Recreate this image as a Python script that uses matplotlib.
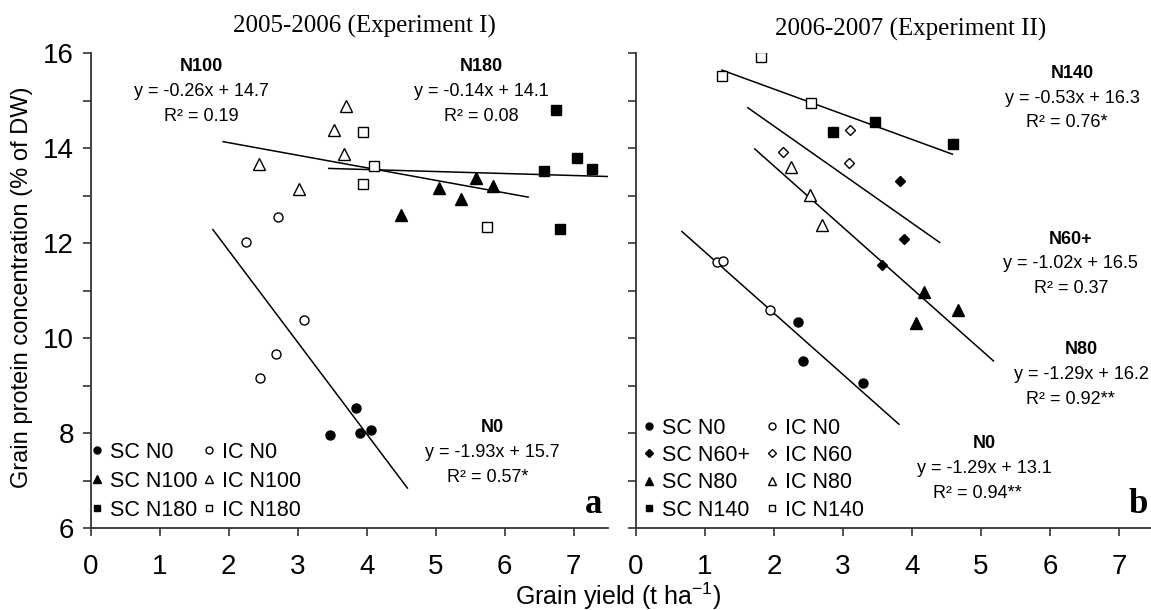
import matplotlib
matplotlib.use('Agg')
import matplotlib.pyplot as plt
from matplotlib.lines import Line2D

plt.rcParams['font.family'] = ['Liberation Sans', 'DejaVu Sans']
plt.rcParams['mathtext.fontset'] = 'custom'
plt.rcParams['mathtext.rm'] = 'Liberation Sans'
plt.rcParams['mathtext.it'] = 'Liberation Sans:italic'

# ---- 2005-2006 (Experiment I) ----
e1_sc_n0_x = [3.47, 3.84, 3.91, 4.06]
e1_sc_n0_y = [7.95, 8.53, 7.99, 8.06]
e1_ic_n0_x = [2.25, 2.71, 3.09, 2.68, 2.46]
e1_ic_n0_y = [12.02, 12.55, 10.38, 9.66, 9.16]
e1_sc_n100_x = [4.50, 5.05, 5.37, 5.59, 5.83]
e1_sc_n100_y = [12.59, 13.15, 12.93, 13.37, 13.20]
e1_ic_n100_x = [2.44, 3.02, 3.53, 3.67, 3.70]
e1_ic_n100_y = [13.66, 13.14, 14.38, 13.87, 14.89]
e1_sc_n180_x = [6.57, 6.75, 6.80, 7.05, 7.27]
e1_sc_n180_y = [13.52, 14.81, 12.29, 13.80, 13.55]
e1_ic_n180_x = [3.94, 3.94, 4.10, 5.75]
e1_ic_n180_y = [14.33, 13.24, 13.63, 12.34]

# trend lines as drawn (slope, intercept, x range)
e1_fit_slope = [-1.93, -0.264, -0.042]
e1_fit_icpt = [15.7, 14.64, 13.715]
e1_fit_xmin = [1.77, 1.92, 3.45]
e1_fit_xmax = [4.59, 6.34, 7.5]

e1_fit_names = ['N0', 'N100', 'N180']
e1_fit_eq = ['y = -1.93x + 15.7', 'y = -0.26x + 14.7', 'y = -0.14x + 14.1']
e1_fit_r2 = ['R\u00b2 = 0.57*', 'R\u00b2 = 0.19', 'R\u00b2 = 0.08']

# ---- 2006-2007 (Experiment II) ----
e2_sc_n0_x = [2.35, 2.42, 3.29]
e2_sc_n0_y = [10.33, 9.52, 9.06]
e2_ic_n0_x = [1.17, 1.26, 1.94]
e2_ic_n0_y = [11.59, 11.63, 10.60]
e2_sc_n60_x = [3.57, 3.83, 3.89]
e2_sc_n60_y = [11.54, 13.31, 12.08]
e2_ic_n60_x = [2.13, 3.08, 3.10]
e2_ic_n60_y = [13.92, 13.68, 14.38]
e2_sc_n80_x = [4.06, 4.18, 4.67]
e2_sc_n80_y = [10.31, 10.96, 10.59]
e2_ic_n80_x = [2.24, 2.52, 2.70]
e2_ic_n80_y = [13.59, 13.01, 12.37]
e2_sc_n140_x = [2.85, 3.46, 4.59]
e2_sc_n140_y = [14.33, 14.54, 14.08]
e2_ic_n140_x = [1.25, 1.81, 2.53]
e2_ic_n140_y = [15.52, 15.91, 14.94]

e2_fit_slope = [-1.29, -1.02, -1.29, -0.53]
e2_fit_icpt = [13.1, 16.5, 16.2, 16.3]
e2_fit_xmin = [0.665, 1.62, 1.72, 1.245]
e2_fit_xmax = [3.81, 4.40, 5.18, 4.585]

e2_fit_names = ['N0', 'N60+', 'N80', 'N140']
e2_fit_eq = ['y = -1.29x + 13.1', 'y = -1.02x + 16.5', 'y = -1.29x + 16.2', 'y = -0.53x + 16.3']
e2_fit_r2 = ['R\u00b2 = 0.94**', 'R\u00b2 = 0.37', 'R\u00b2 = 0.92**', 'R\u00b2 = 0.76*']

x_ticks = [0, 1, 2, 3, 4, 5, 6, 7]

AX_COL = '#333333'
MS = {'o': 6.5, '^': 8, 's': 6.5, 'D': 5.5}
LEG_MS = {'o': 5, '^': 6, 's': 5, 'D': 4.5}


def style_axes(ax, show_ylabels):
    ax.set_xlim(0, 7.5)
    ax.set_ylim(6, 16)
    for s in ['top', 'right']:
        ax.spines[s].set_visible(False)
    for s in ['left', 'bottom']:
        ax.spines[s].set_color(AX_COL)
        ax.spines[s].set_linewidth(1.3)
    ax.set_xticks(x_ticks)
    ax.set_yticks([6, 8, 10, 12, 14, 16])
    ax.set_yticks([7, 9, 11, 13, 15], minor=True)
    ax.tick_params(axis='both', which='both', direction='out', color=AX_COL, width=1.2)
    ax.tick_params(axis='x', length=6, pad=13, labelsize=20)
    ax.tick_params(axis='y', which='both', length=6, pad=6, labelsize=20)
    if not show_ylabels:
        ax.tick_params(axis='y', labelleft=False)


def draw_series(ax, x, y, marker, filled):
    ax.plot(x, y, linestyle='none', marker=marker, markersize=MS[marker],
            markerfacecolor='black' if filled else 'white',
            markeredgecolor='black', markeredgewidth=1.0, zorder=3)


def draw_fits(ax, slopes, icpts, xmins, xmaxs):
    for k, b, x0, x1 in zip(slopes, icpts, xmins, xmaxs):
        ax.plot([x0, x1], [k * x0 + b, k * x1 + b], color='black', linewidth=1.1, zorder=2)


def legend_handle(marker, filled):
    return Line2D([], [], linestyle='none', marker=marker, markersize=LEG_MS[marker],
                  markerfacecolor='black' if filled else 'white',
                  markeredgecolor='black', markeredgewidth=1.0)


def fit_label(ax, x, y, name, eq, r2, dy=0.52, r2dx=0.0):
    ax.text(x, y, name, ha='center', va='center', fontsize=13, fontweight='bold')
    ax.text(x, y - dy, eq, ha='center', va='center', fontsize=13)
    ax.text(x + r2dx, y - 2 * dy, r2, ha='center', va='center', fontsize=13)


fig = plt.figure(figsize=(11.51, 6.10), dpi=100)
ax1 = fig.add_axes([0.0788, 0.1344, 0.4496, 0.7787])
ax2 = fig.add_axes([0.5526, 0.1344, 0.4496, 0.7787])

# panel a
style_axes(ax1, True)
draw_fits(ax1, e1_fit_slope, e1_fit_icpt, e1_fit_xmin, e1_fit_xmax)
draw_series(ax1, e1_sc_n0_x, e1_sc_n0_y, 'o', True)
draw_series(ax1, e1_ic_n0_x, e1_ic_n0_y, 'o', False)
draw_series(ax1, e1_sc_n100_x, e1_sc_n100_y, '^', True)
draw_series(ax1, e1_ic_n100_x, e1_ic_n100_y, '^', False)
draw_series(ax1, e1_sc_n180_x, e1_sc_n180_y, 's', True)
draw_series(ax1, e1_ic_n180_x, e1_ic_n180_y, 's', False)

fit_label(ax1, 5.82, 8.11, e1_fit_names[0], e1_fit_eq[0], e1_fit_r2[0], r2dx=-0.07)
fit_label(ax1, 1.61, 15.71, e1_fit_names[1], e1_fit_eq[1], e1_fit_r2[1])
fit_label(ax1, 5.66, 15.71, e1_fit_names[2], e1_fit_eq[2], e1_fit_r2[2])
ax1.text(7.42, 6.5, 'a', ha='right', va='center', fontsize=25, fontweight='bold',
         family='Liberation Serif')

h1 = [legend_handle('o', True), legend_handle('^', True), legend_handle('s', True),
      legend_handle('o', False), legend_handle('^', False), legend_handle('s', False)]
l1 = ['SC N0', 'SC N100', 'SC N180', 'IC N0', 'IC N100', 'IC N180']
ax1.legend(h1, l1, ncol=2, loc='lower left', bbox_to_anchor=(0.0, 0.015), frameon=False,
           fontsize=15.5, handlelength=0.6, handletextpad=0.3, columnspacing=0.22,
           labelspacing=0.38, borderpad=0.0, borderaxespad=0.0)

# panel b
style_axes(ax2, False)
draw_fits(ax2, e2_fit_slope, e2_fit_icpt, e2_fit_xmin, e2_fit_xmax)
draw_series(ax2, e2_sc_n0_x, e2_sc_n0_y, 'o', True)
draw_series(ax2, e2_ic_n0_x, e2_ic_n0_y, 'o', False)
draw_series(ax2, e2_sc_n60_x, e2_sc_n60_y, 'D', True)
draw_series(ax2, e2_ic_n60_x, e2_ic_n60_y, 'D', False)
draw_series(ax2, e2_sc_n80_x, e2_sc_n80_y, '^', True)
draw_series(ax2, e2_ic_n80_x, e2_ic_n80_y, '^', False)
draw_series(ax2, e2_sc_n140_x, e2_sc_n140_y, 's', True)
draw_series(ax2, e2_ic_n140_x, e2_ic_n140_y, 's', False)

fit_label(ax2, 5.05, 7.77, e2_fit_names[0], e2_fit_eq[0], e2_fit_r2[0], r2dx=-0.1)
fit_label(ax2, 6.30, 12.08, e2_fit_names[1], e2_fit_eq[1], e2_fit_r2[1])
fit_label(ax2, 6.45, 9.75, e2_fit_names[2], e2_fit_eq[2], e2_fit_r2[2], r2dx=-0.15)
fit_label(ax2, 6.33, 15.57, e2_fit_names[3], e2_fit_eq[3], e2_fit_r2[3], r2dx=-0.08)
ax2.text(7.42, 6.5, 'b', ha='right', va='center', fontsize=25, fontweight='bold',
         family='Liberation Serif')

h2 = [legend_handle('o', True), legend_handle('D', True), legend_handle('^', True),
      legend_handle('s', True), legend_handle('o', False), legend_handle('D', False),
      legend_handle('^', False), legend_handle('s', False)]
l2 = ['SC N0', 'SC N60+', 'SC N80', 'SC N140', 'IC N0', 'IC N60', 'IC N80', 'IC N140']
ax2.legend(h2, l2, ncol=2, loc='lower left', bbox_to_anchor=(0.012, 0.015), frameon=False,
           fontsize=15.5, handlelength=0.6, handletextpad=0.3, columnspacing=0.72,
           labelspacing=0.3, borderpad=0.0, borderaxespad=0.0)

fig.text(0.317, 0.956, '2005-2006 (Experiment I)', ha='center', va='center',
         fontsize=18, family='Liberation Serif')
fig.text(0.791, 0.951, '2006-2007 (Experiment II)', ha='center', va='center',
         fontsize=18, family='Liberation Serif')
fig.text(0.019, 0.529, 'Grain protein concentration (% of DW)', rotation=90,
         ha='center', va='center', fontsize=17)
fig.text(0.537, 0.022, 'Grain yield (t ha$^{-1}$)', ha='center', va='center', fontsize=18)

fig.savefig('out.png', dpi=100)
